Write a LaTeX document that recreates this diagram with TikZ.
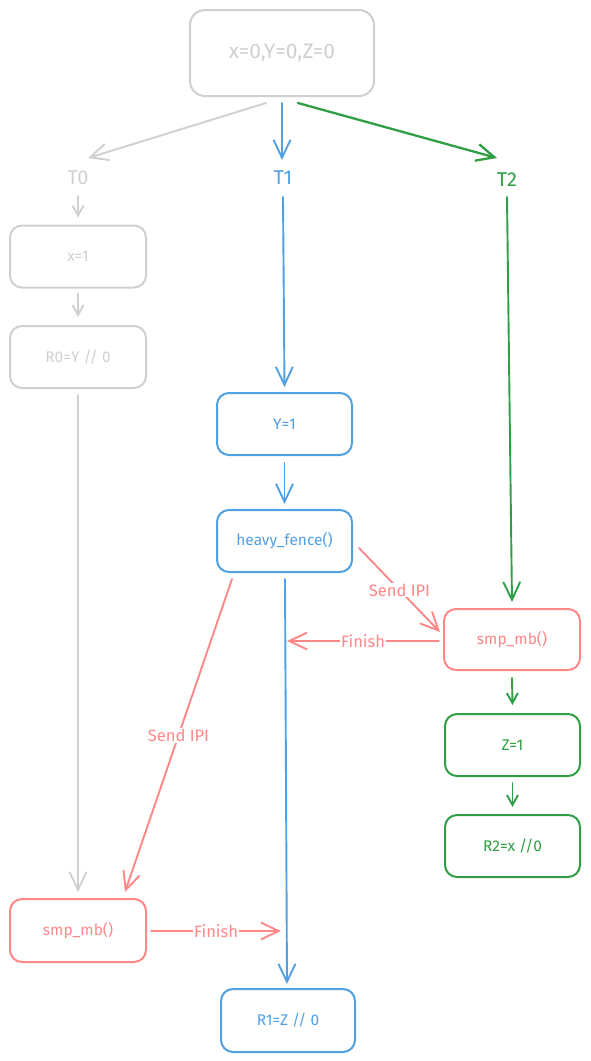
\documentclass[tikz,border=0pt]{standalone}
\usepackage{fontspec}
\setmainfont{Fira Sans}
\usetikzlibrary{arrows.meta,calc}
\definecolor{cgray}{RGB}{208,208,208}
\definecolor{cblue}{RGB}{80,160,228}
\definecolor{cgreen}{RGB}{47,158,68}
\definecolor{cred}{RGB}{255,135,135}
\begin{document}
\begin{tikzpicture}[x=1pt,y=-1pt,
  bx/.style={draw, rounded corners=12pt, line width=2pt, inner sep=0pt,
    minimum width=136pt, minimum height=62pt, font=\fontsize{15.5}{17}\selectfont},
  gbx/.style={bx, draw=cgray, text=cgray},
  blbx/.style={bx, draw=cblue, text=cblue},
  gnbx/.style={bx, draw=cgreen, text=cgreen},
  rdbx/.style={bx, draw=cred, text=cred},
  tlab/.style={inner sep=0pt, font=\fontsize{20}{22}\selectfont},
  elab/.style={fill=white, inner sep=1pt, text=cred, font=\fontsize{16.5}{18}\selectfont},
  ln/.style={line width=1.9pt, line cap=round},
  bigarr/.style={ln, -{Straight Barb[length=18pt,width=17pt]}},
  smallarr/.style={ln, -{Straight Barb[length=10pt,width=11pt]}}
]
\useasboundingbox (0,0) rectangle (590,1061);

% nodes
\node[gbx, minimum width=184pt, minimum height=86pt, rounded corners=15pt,
  font=\fontsize{21}{23}\selectfont] (top) at (282,53) {x=0,Y=0,Z=0};

\node[tlab, text=cgray]  (T0) at (78,178) {T0};
\node[tlab, text=cblue]  (T1) at (283,178) {T1};
\node[tlab, text=cgreen] (T2) at (507,180) {T2};

\node[gbx] (x1) at (78,256.5) {x=1};
\node[gbx] (r0) at (78,357) {R0=Y // 0};
\node[rdbx, minimum height=63pt] (smpl) at (78,930.5) {smp\_mb()};

\node[blbx, minimum width=135pt] (y1) at (284.5,424) {Y=1};
\node[blbx, minimum width=135pt] (hf) at (284.5,541) {heavy\_fence()};
\node[blbx, minimum width=134pt, minimum height=63pt] (r1) at (288,1020.5) {R1=Z // 0};

\node[rdbx, minimum height=61pt] (smpr) at (512,639.5) {smp\_mb()};
\node[gnbx, minimum width=135pt] (z1) at (512.5,745) {Z=1};
\node[gnbx, minimum width=135pt] (r2) at (512.5,846) {R2=x //0};

\coordinate (f1) at (287,641);
\coordinate (f2) at (281,931);

% top fan-out
\draw[bigarr, cgray]  ($(top.south)+(-16,6)$) -- ($(T0)+(10,-20)$);
\draw[bigarr, cblue]  ($(top.south)+(0,6)$)   -- ($(T1)+(-1,-18)$);
\draw[bigarr, cgreen, line width=2.3pt] ($(top.south)+(16,6)$) -- ($(T2)+(-10,-22)$);

% T0 column
\draw[smallarr, cgray] ($(T0)+(0,18)$) -- ($(x1.north)+(0,-7)$);
\draw[smallarr, cgray] ($(x1.south)+(0,5)$) -- ($(r0.north)+(0,-8)$);
\draw[bigarr, cgray] ($(r0.south)+(0,6)$) -- ($(smpl.north)+(0,-6)$);

% T1 column
\draw[bigarr, cblue] ($(T1)+(0,19)$) -- ($(y1.north)+(0,-5)$);
\draw[bigarr, cblue] ($(y1.south)+(0,7)$) -- ($(hf.north)+(0,-5)$);
\draw[bigarr, cblue] ($(hf.south)+(0.5,6)$) -- ($(r1.north)+(-1,-4)$);

% T2 column
\draw[bigarr, cgreen] ($(T2)+(0,17)$) -- ($(smpr.north)+(0,-6)$);
\draw[smallarr, cgreen] ($(smpr.south)+(0,7)$) -- ($(z1.north)+(0,-8)$);
\draw[smallarr, cgreen] ($(z1.south)+(0,6)$) -- ($(r2.north)+(0,-7)$);

% IPI / Finish
\draw[bigarr, cred] ($(hf.east)+(6,7)$) -- node[elab] {Send IPI} ($(smpr.west)+(-3,-7.5)$);
\draw[bigarr, cred] ($(smpr.west)+(-4,1.5)$) -- node[elab] {Finish} (f1);
\draw[bigarr, cred] ($(hf.south)+(-52.5,6)$) -- node[elab] {Send IPI} ($(smpl.north)+(47,-6)$);
\draw[bigarr, cred] ($(smpl.east)+(4,0.5)$) -- node[elab] {Finish} (f2);
\end{tikzpicture}
\end{document}
